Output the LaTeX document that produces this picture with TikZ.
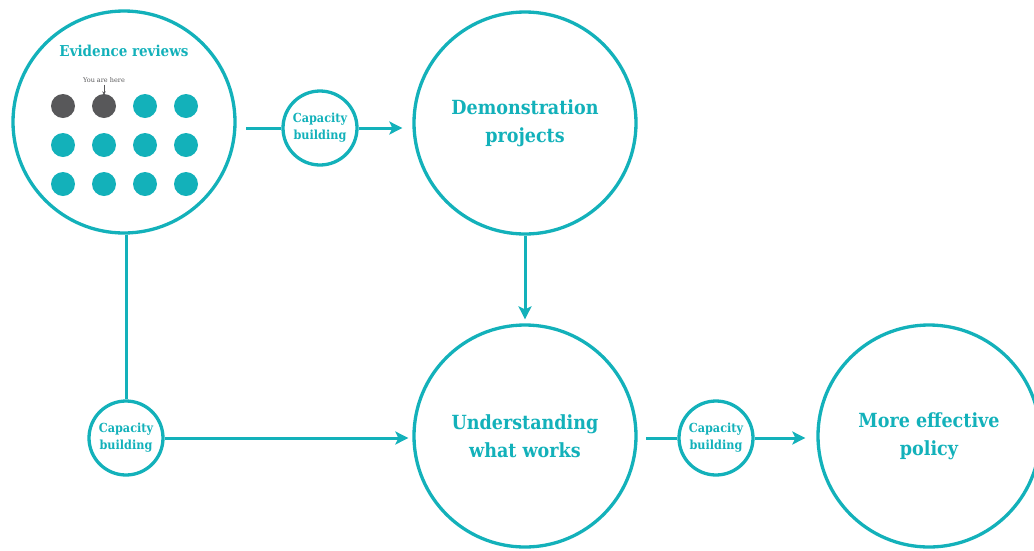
\documentclass[tikz,border=0pt]{standalone}
\usepackage{fontspec}
\setmainfont{DejaVu Serif}
\newfontfamily\smallfont{DejaVu Serif Condensed}
\usetikzlibrary{arrows.meta}
\definecolor{teal1}{HTML}{13B1BA}
\definecolor{dark1}{HTML}{58585A}
\tikzset{
  bigc/.style={circle, draw=teal1, line width=3.3pt, minimum size=222pt, inner sep=0pt, align=center, text=teal1, font=\smallfont\bfseries\fontsize{19.5}{28}\selectfont},
  capc/.style={circle, draw=teal1, line width=3.3pt, minimum size=74pt, inner sep=0pt, align=center, text=teal1, font=\smallfont\bfseries\fontsize{12.5}{17}\selectfont},
  dotc/.style={circle, fill=teal1, minimum size=24pt, inner sep=0pt},
  dotd/.style={circle, fill=dark1, minimum size=24pt, inner sep=0pt},
  conn/.style={draw=teal1, line width=3pt},
  arr/.style={conn, -{Stealth[length=13pt,width=13pt,inset=3pt]}},
}
\begin{document}
\begin{tikzpicture}[x=1pt,y=-1pt]
\useasboundingbox (0,0) rectangle (1034,550);
\clip (0,0) rectangle (1034,550);
\node[bigc] (ev) at (124,122) {};
\node[text=teal1, font=\smallfont\bfseries\fontsize{15}{17}\selectfont] (evt) at (124,51) {Evidence reviews};
\node[bigc] (demo) at (525,123) {Demonstration\\projects};
\node[bigc] (und) at (525,436) {Understanding\\what works};
\node[bigc] (pol) at (929,436) {More effective\\policy};
\node[capc] (c1) at (320,128) {Capacity\\building};
\node[capc] (c2) at (126,438) {Capacity\\building};
\node[capc] (c3) at (716,438) {Capacity\\building};
% dots
\node[dotd] (d11) at (63,106) {};
\node[dotd] (d12) at (104,106) {};
\node[dotc] (d13) at (145,106) {};
\node[dotc] (d14) at (186,106) {};
\node[dotc] (d21) at (63,145) {};
\node[dotc] (d22) at (104,145) {};
\node[dotc] (d23) at (145,145) {};
\node[dotc] (d24) at (186,145) {};
\node[dotc] (d31) at (63,184) {};
\node[dotc] (d32) at (104,184) {};
\node[dotc] (d33) at (145,184) {};
\node[dotc] (d34) at (186,184) {};
\node[text=dark1, font=\fontsize{6.5}{7}\selectfont, inner sep=0pt] (here) at (104,80) {You are here};
\draw[dark1, line width=0.7pt, -{Stealth[length=3.5pt,width=3.5pt]}] ([yshift=-2pt]here.south) -- ([yshift=-1pt]d12.north);
% connectors
\coordinate (s1) at (246,128);
\draw[conn] (s1) -- (c1.west);
\draw[arr, shorten >=10pt] (c1.east) -- (demo.west |- c1.east);
\draw[arr, shorten >=4pt] (demo.south) -- (und.north);
\draw[conn] (ev.south -| c2.north) -- (c2.north);
\draw[arr, shorten >=4pt] (c2.east) -- (und.west |- c2.east);
\coordinate (s3) at (646,438);
\draw[conn] (s3) -- (c3.west);
\draw[arr, shorten >=11pt] (c3.east) -- (pol.west |- c3.east);
\end{tikzpicture}
\end{document}
